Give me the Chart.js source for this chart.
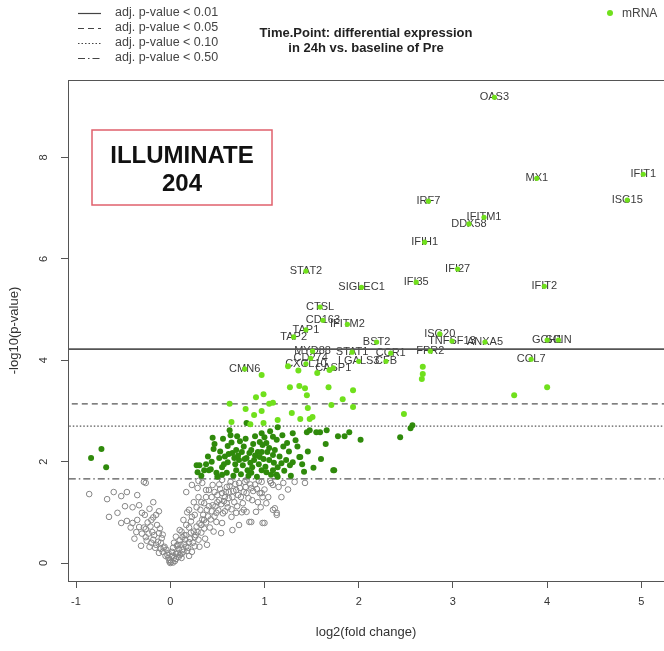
<!DOCTYPE html>
<html>
<head>
<meta charset="utf-8">
<script src="https://cdn.jsdelivr.net/npm/chart.js@4.4.0/dist/chart.umd.min.js"></script>
<style>
  body { margin: 0; background: #fff; }
</style>
</head>
<body>
<canvas id="chart" width="664" height="651"></canvas>
<script>
// volcano plot data: [log2 fold change, -log10 p]
const geneNames = ['OAS3', 'MX1', 'IFIT1', 'ISG15', 'IRF7', 'IFITM1', 'DDX58', 'IFIH1', 'STAT2', 'IFI27',
    'SIGLEC1', 'IFI35', 'IFIT2', 'CTSL', 'CD163', 'IFITM2', 'TAP1', 'TAP2', 'ISG20', 'TNFSF13',
    'ANXA5', 'BST2', 'GCH1', 'SCIN', 'COL7', 'CCR1', 'FPR2', 'MYD88', 'STAT1', 'LGALS3',
    'CFB', 'CXCL10', 'CD274', 'CASP1', 'CMN6'];
const geneFC = [3.44, 3.89, 5.02, 4.85, 2.74, 3.33, 3.17, 2.70, 1.44, 3.05,
    2.03, 2.61, 3.97, 1.59, 1.62, 1.88, 1.44, 1.31, 2.86, 2.99,
    3.34, 2.19, 4.00, 4.12, 3.83, 2.34, 2.76, 1.51, 1.93, 2.00,
    2.29, 1.44, 1.49, 1.73, 0.79];
const geneP = [9.19, 7.59, 7.67, 7.16, 7.14, 6.82, 6.69, 6.33, 5.76, 5.80,
    5.44, 5.54, 5.46, 5.05, 4.79, 4.71, 4.60, 4.46, 4.52, 4.38,
    4.36, 4.36, 4.40, 4.40, 4.02, 4.14, 4.18, 4.18, 4.16, 3.98,
    3.98, 3.93, 4.04, 3.85, 3.83];

const sigPoints = [
    [0.97, 3.71], [1.27, 3.47], [1.37, 3.49], [1.43, 3.45], [1.45, 3.31], [1.68, 3.47], [1.94, 3.41],
    [1.83, 3.23], [1.94, 3.08], [1.71, 3.12], [0.91, 3.27], [0.99, 3.33], [1.05, 3.14], [1.09, 3.16],
    [0.63, 3.14], [0.80, 3.04], [0.89, 2.92], [0.97, 3.00], [1.29, 2.96], [1.38, 2.84], [1.48, 2.84],
    [1.51, 2.88], [1.46, 3.06], [0.65, 2.78], [0.85, 2.74], [0.99, 2.76], [1.14, 2.82], [2.68, 3.87],
    [2.68, 3.73], [2.67, 3.63], [4.00, 3.47], [3.65, 3.31], [2.48, 2.94], [1.56, 3.75], [1.69, 3.81],
    [1.36, 3.80], [1.25, 3.88]
];

const midPoints = [
    [-0.84, 2.07], [-0.73, 2.25], [-0.68, 1.89], [0.28, 1.93], [0.31, 1.93], [0.29, 1.79], [0.45, 2.47],
    [0.46, 2.25], [0.43, 1.85], [0.52, 2.07], [0.55, 1.89], [0.63, 2.62], [0.64, 2.52], [0.61, 2.31],
    [0.66, 2.17], [0.70, 2.23], [0.73, 2.03], [0.77, 1.93], [0.70, 1.83], [0.81, 2.07], [0.80, 2.45],
    [0.84, 2.17], [0.86, 2.23], [0.87, 1.89], [0.82, 1.83], [0.95, 2.09], [0.95, 2.39], [0.97, 2.19],
    [0.97, 2.56], [1.02, 2.37], [1.03, 2.19], [1.09, 2.49], [1.11, 2.23], [1.13, 2.43], [1.14, 2.68],
    [1.05, 2.03], [0.97, 1.83], [1.02, 1.79], [1.14, 1.70], [1.09, 1.83], [1.14, 1.89], [1.24, 2.37],
    [1.23, 2.03], [1.27, 1.93], [1.30, 1.99], [1.30, 2.56], [1.37, 2.09], [1.45, 2.58], [1.48, 2.62],
    [1.59, 2.58], [1.90, 2.58], [1.74, 1.83], [0.81, 2.76], [0.41, 1.83], [0.61, 1.99], [0.68, 2.07],
    [0.76, 2.19], [0.86, 1.78], [0.89, 2.03], [0.93, 2.19], [0.98, 2.33], [1.05, 2.27], [1.09, 2.13],
    [1.18, 1.97], [1.13, 1.74], [0.55, 1.74], [0.49, 1.78], [0.36, 1.83], [1.38, 2.09], [1.73, 1.83],
    [1.55, 2.58], [1.35, 2.30], [1.42, 1.80], [1.20, 2.30], [0.58, 2.10], [0.74, 2.40], [0.90, 2.50],
    [2.55, 2.66], [2.44, 2.48], [2.02, 2.43], [2.57, 2.72], [1.85, 2.50], [1.65, 2.35],
    [0.33, 1.72], [0.38, 1.95], [0.40, 2.10], [0.44, 2.00], [0.47, 2.35], [0.50, 1.70], [0.53, 2.20],
    [0.56, 2.45], [0.57, 1.95], [0.60, 1.78], [0.62, 2.15], [0.65, 2.38], [0.67, 1.72], [0.69, 1.95],
    [0.71, 2.50], [0.72, 2.12], [0.75, 1.75], [0.78, 2.30], [0.79, 2.05], [0.83, 1.72], [0.85, 1.98],
    [0.88, 2.35], [0.90, 2.12], [0.92, 1.70], [0.94, 1.95], [0.99, 2.05], [1.00, 2.48], [1.01, 1.90],
    [1.06, 2.60], [1.07, 1.74], [1.10, 1.98], [1.16, 2.10], [1.19, 2.52], [1.21, 1.82], [1.26, 2.20],
    [1.28, 1.72], [1.33, 2.42], [1.40, 1.95], [1.46, 2.20], [1.52, 1.88], [1.60, 2.05], [1.66, 2.62],
    [1.78, 2.50]
];

const grayPoints = [
    [-0.86, 1.36], [-0.67, 1.26], [-0.60, 1.40], [-0.52, 1.32], [-0.46, 1.40], [-0.35, 1.34], [-0.26, 1.58],
    [-0.33, 1.14], [-0.56, 0.99], [-0.65, 0.91], [-0.52, 0.79], [-0.46, 0.83], [-0.40, 0.79], [-0.35, 0.85],
    [-0.30, 0.99], [-0.22, 1.07], [-0.20, 0.85], [-0.14, 0.75], [-0.15, 0.95], [-0.33, 0.71], [-0.26, 0.67],
    [-0.36, 0.61], [-0.19, 0.61], [-0.12, 0.59], [-0.09, 0.49], [-0.26, 0.51], [-0.31, 0.34], [-0.22, 0.32],
    [-0.15, 0.36], [-0.06, 0.32], [-0.12, 0.20], [-0.03, 0.16], [0.01, 0.02], [0.04, 0.10], [-0.04, 0.26],
    [0.10, 0.16], [0.13, 0.26], [0.17, 0.32], [0.07, 0.34], [0.20, 0.41], [0.23, 0.22], [0.26, 0.51],
    [0.13, 0.51], [0.29, 0.61], [0.10, 0.65], [0.17, 0.75], [0.33, 0.75], [0.36, 0.85], [0.23, 0.91],
    [0.20, 1.05], [0.28, 1.10], [0.33, 1.20], [0.38, 1.30], [0.41, 1.44], [0.45, 1.54], [0.39, 1.05],
    [0.45, 1.14], [0.49, 0.99], [0.52, 1.24], [0.55, 1.38], [0.60, 1.50], [0.61, 1.10], [0.65, 0.91],
    [0.66, 1.30], [0.70, 1.44], [0.73, 1.58], [0.77, 1.18], [0.81, 1.38], [0.86, 1.48], [0.87, 1.24],
    [0.91, 1.01], [0.97, 1.38], [1.00, 0.79], [1.07, 1.58], [1.11, 1.08], [1.13, 0.99], [0.84, 0.81],
    [0.73, 0.75], [0.66, 0.65], [0.54, 0.59], [0.39, 0.36], [0.31, 0.32], [0.20, 0.14], [0.17, 0.55],
    [0.55, 0.79], [0.49, 0.81], [0.70, 0.99], [0.81, 1.01], [0.95, 1.38], [1.02, 1.18], [1.09, 1.05],
    [1.13, 0.95], [0.98, 0.79], [0.86, 0.81], [1.43, 1.58], [1.09, 1.54], [0.98, 1.30], [0.23, 1.54],
    [0.17, 1.40], [0.29, 1.48], [0.34, 1.58], [0.55, 1.64], [0.81, 1.64], [0.97, 1.60], [-0.28, 1.60],
    [0.00, 0.06], [0.05, 0.04], [-0.02, 0.10], [0.08, 0.20], [-0.08, 0.22], [0.12, 0.10], [0.03, 0.30],
    [0.15, 0.38], [0.10, 0.45], [0.22, 0.60], [0.28, 0.72], [0.35, 0.95], [0.42, 0.70], [0.44, 1.30],
    [0.50, 1.20], [0.58, 1.30], [0.62, 1.40], [0.68, 1.20], [0.75, 1.30], [0.80, 1.50], [0.90, 1.55],
    [0.58, 1.02], [0.46, 0.62], [0.37, 0.48], [0.26, 0.33], [-0.10, 0.40], [-0.18, 0.46], [-0.24, 0.80],
    [0.06, 0.52], [0.14, 0.85], [0.30, 1.30], [0.64, 1.60], [0.93, 1.20], [0.78, 1.05],
    [0.02, 0.14], [0.06, 0.18], [0.09, 0.28], [0.11, 0.36], [0.14, 0.22], [0.16, 0.46], [0.19, 0.30],
    [0.21, 0.48], [0.24, 0.40], [0.25, 0.62], [0.27, 0.55], [0.30, 0.46], [0.31, 0.78], [0.33, 0.60],
    [0.34, 0.86], [0.36, 0.68], [0.38, 0.80], [0.40, 0.92], [0.41, 1.12], [0.43, 0.86], [0.44, 1.02],
    [0.47, 0.92], [0.48, 1.12], [0.50, 1.34], [0.51, 1.04], [0.53, 1.46], [0.54, 1.16], [0.56, 0.98],
    [0.57, 1.22], [0.59, 1.40], [0.60, 1.18], [0.62, 1.28], [0.63, 1.52], [0.65, 1.06], [0.67, 1.42],
    [0.69, 1.56], [0.71, 1.12], [0.72, 1.34], [0.74, 1.48], [0.76, 1.00], [0.78, 1.40], [0.79, 1.60],
    [0.83, 1.28], [0.85, 1.55], [0.88, 1.42], [0.92, 1.46], [0.94, 1.62], [0.96, 1.10], [1.00, 1.45],
    [1.04, 1.30], [1.06, 1.62], [1.15, 1.50], [1.18, 1.30], [1.20, 1.58], [1.25, 1.45], [1.32, 1.60],
    [-0.02, 0.20], [-0.05, 0.14], [-0.07, 0.30], [-0.10, 0.28], [-0.13, 0.42], [-0.16, 0.30], [-0.17, 0.55],
    [-0.20, 0.40], [-0.23, 0.58], [-0.25, 0.44], [-0.28, 0.70], [-0.21, 0.72], [-0.18, 0.90], [-0.11, 0.68],
    [-0.08, 0.56], [-0.30, 0.58], [-0.38, 0.48], [-0.42, 0.70], [-0.27, 0.95], [-0.40, 1.10], [-0.18, 1.20],
    [-0.12, 1.02], [-0.48, 1.12],
    [0.00, 0.00], [0.03, 0.01], [-0.01, 0.03], [0.06, 0.08], [0.09, 0.12], [0.02, 0.22], [0.12, 0.18],
    [0.18, 0.24], [0.04, 0.40], [0.08, 0.36], [0.15, 0.55], [0.12, 0.62], [0.20, 0.70], [0.22, 0.82],
    [0.26, 0.95], [0.18, 1.00], [0.25, 1.20], [0.32, 1.05], [0.36, 1.18], [0.38, 1.44], [0.30, 1.62],
    [0.47, 1.40], [0.52, 1.55]
];

const cutoffs = [4.22, 3.14, 2.70, 1.66];
const cutoffLabels = ['adj. p-value < 0.01', 'adj. p-value < 0.05', 'adj. p-value < 0.10', 'adj. p-value < 0.50'];
const cutoffDash = [[], [6, 4], [1.5, 2], [7, 3, 1.5, 3]];

const xTicks = [-1, 0, 1, 2, 3, 4, 5];
const yTicks = [0, 2, 4, 6, 8];

const titleLines = ['Time.Point: differential expression', 'in 24h vs. baseline of Pre'];
const boxLines = ['ILLUMINATE', '204'];

const FONT = "'Liberation Sans', Arial, sans-serif";
const lightGreen = '#70e01c';
const darkGreen = '#2f8a0b';

const toXY = pts => pts.map(p => ({x: p[0], y: p[1]}));

const datasets = [
    {
        label: 'genes',
        data: geneFC.map((x, i) => ({x: x, y: geneP[i]})),
        backgroundColor: lightGreen,
        borderColor: lightGreen,
        pointRadius: 2.6,
        borderWidth: 0
    },
    {
        label: 'sig',
        data: toXY(sigPoints),
        backgroundColor: lightGreen,
        borderColor: lightGreen,
        pointRadius: 3,
        borderWidth: 0
    },
    {
        label: 'mid',
        data: toXY(midPoints),
        backgroundColor: darkGreen,
        borderColor: darkGreen,
        pointRadius: 3,
        borderWidth: 0
    },
    {
        label: 'ns',
        data: toXY(grayPoints),
        backgroundColor: 'rgba(255,255,255,0)',
        borderColor: '#868686',
        pointRadius: 2.8,
        borderWidth: 1
    }
];

cutoffs.forEach((c, i) => {
    datasets.push({
        label: cutoffLabels[i],
        data: [{x: -2, y: c}, {x: 6, y: c}],
        showLine: true,
        borderColor: '#555',
        borderWidth: i === 0 ? 1.6 : 1.3,
        borderDash: cutoffDash[i],
        pointRadius: 0
    });
});

const decorations = {
    id: 'decorations',
    beforeDatasetsDraw(chart) {
        // gene names sit under their points
        const ctx = chart.ctx;
        const meta = chart.getDatasetMeta(0);
        ctx.save();
        ctx.font = '11px ' + FONT;
        ctx.fillStyle = '#3a3a3a';
        ctx.textAlign = 'center';
        ctx.textBaseline = 'middle';
        meta.data.forEach((pt, i) => ctx.fillText(geneNames[i], pt.x, pt.y));
        ctx.restore();
    },
    afterDraw(chart) {
        const ctx = chart.ctx;
        const a = chart.chartArea;
        ctx.save();
        // plot box
        ctx.strokeStyle = '#555';
        ctx.lineWidth = 1;
        ctx.strokeRect(a.left + 0.5, a.top + 0.5, a.right - a.left, a.bottom - a.top);

        // line-type legend
        ctx.font = '12.5px ' + FONT;
        ctx.textBaseline = 'middle';
        ctx.textAlign = 'left';
        cutoffLabels.forEach((t, i) => {
            const y = 13 + i * 15;
            ctx.strokeStyle = '#444';
            ctx.lineWidth = 1.2;
            ctx.setLineDash(cutoffDash[i]);
            ctx.beginPath();
            ctx.moveTo(78, y + 0.5);
            ctx.lineTo(101, y + 0.5);
            ctx.stroke();
            ctx.setLineDash([]);
            ctx.fillStyle = '#444';
            ctx.fillText(t, 115, y);
        });

        // mRNA legend
        ctx.fillStyle = lightGreen;
        ctx.beginPath();
        ctx.arc(610, 13, 3, 0, Math.PI * 2);
        ctx.fill();
        ctx.fillStyle = '#444';
        ctx.font = '12px ' + FONT;
        ctx.fillText('mRNA', 622, 14);

        // title
        ctx.fillStyle = '#222';
        ctx.font = 'bold 13px ' + FONT;
        ctx.textAlign = 'center';
        ctx.fillText(titleLines[0], 366, 33);
        ctx.fillText(titleLines[1], 366, 48);

        // ILLUMINATE box
        ctx.strokeStyle = '#e0606c';
        ctx.lineWidth = 1.5;
        ctx.strokeRect(92, 130, 180, 75);
        ctx.fillStyle = '#111';
        ctx.font = 'bold 24px ' + FONT;
        ctx.fillText(boxLines[0], 182, 156);
        ctx.fillText(boxLines[1], 182, 184);
        ctx.restore();
    }
};

const tickFont = {family: FONT, size: 11};
const titleFont = {family: FONT, size: 13};

const config = {
    type: 'scatter',
    data: {datasets: datasets},
    options: {
        responsive: false,
        animation: false,
        layout: {autoPadding: false, padding: {top: 80, right: 0, left: 0, bottom: 0}},
        plugins: {
            legend: {display: false},
            tooltip: {enabled: false}
        },
        scales: {
            x: {
                type: 'linear',
                min: -1.085,
                max: 5.24,
                afterBuildTicks: s => { s.ticks = xTicks.map(v => ({value: v})); },
                afterFit: s => { s.height = 70; s.paddingLeft = 0; s.paddingRight = 0; },
                grid: {drawOnChartArea: false, tickLength: 7, color: '#555'},
                border: {display: true, color: '#555'},
                ticks: {font: tickFont, color: '#333', padding: 7, maxRotation: 0, autoSkip: false},
                title: {display: true, text: 'log2(fold change)', font: titleFont, color: '#333', padding: {top: 0, bottom: 11}}
            },
            y: {
                type: 'linear',
                min: -0.355,
                max: 9.53,
                afterBuildTicks: s => { s.ticks = yTicks.map(v => ({value: v})); },
                afterFit: s => { s.width = 68; s.paddingTop = 0; s.paddingBottom = 0; },
                grid: {drawOnChartArea: false, tickLength: 7, color: '#555'},
                border: {display: true, color: '#555'},
                ticks: {font: tickFont, color: '#333', padding: 14, minRotation: 90, maxRotation: 90, crossAlign: 'center', autoSkip: false},
                title: {display: true, text: '-log10(p-value)', font: titleFont, color: '#333', padding: {top: 7, bottom: 0}}
            }
        }
    },
    plugins: [decorations]
};

const chart = new Chart(document.getElementById('chart'), config);
</script>
</body>
</html>
